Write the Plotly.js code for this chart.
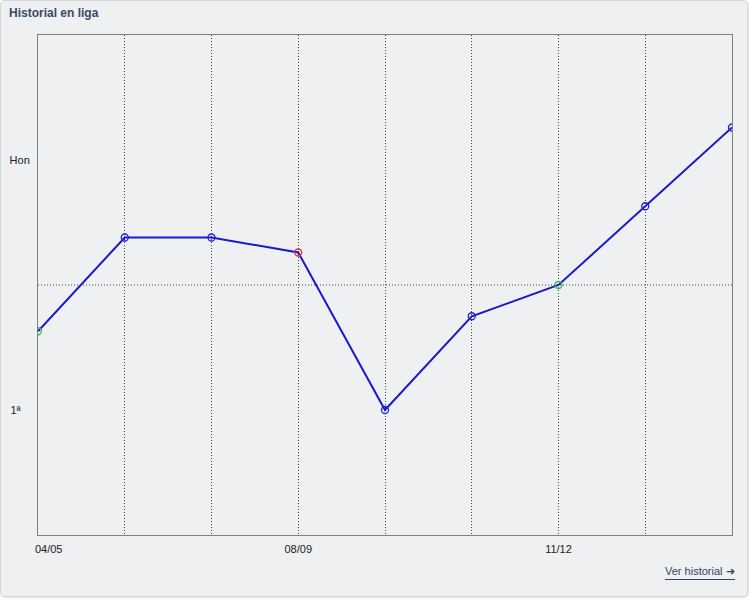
<!DOCTYPE html>
<html>
<head>
<meta charset="utf-8">
<script src="https://cdn.plot.ly/plotly-3.0.1.min.js"></script>
<style>
  html, body { margin: 0; padding: 0; background: #ffffff; }
  #panel {
    position: absolute; left: 0; top: 0; width: 746px; height: 595px;
    background: #eef0f1; border: 1px solid #d3d7db; border-radius: 5px;
    box-shadow: 1px 1px 2px rgba(0,0,0,0.12);
  }
  #title {
    position: absolute; left: 9px; top: 6px;
    font-family: "Liberation Sans", Arial, sans-serif; font-weight: bold;
    font-size: 12px; color: #3a4a63;
  }
  #link {
    position: absolute; left: 665px; top: 565px;
    font-family: "Liberation Sans", Arial, sans-serif; font-size: 11px;
    color: #34445e; border-bottom: 1px solid #34445e; padding-bottom: 1px;
  }
  #chart { position: absolute; left: 0; top: 0; width: 749px; height: 600px; }
</style>
</head>
<body>
<div id="panel"></div>
<div id="title">Historial en liga</div>
<div id="chart"></div>
<div id="link">Ver historial &#10140;</div>
<script>
// Seasons (only some labelled on the axis)
const seasons = ["04/05", "05/06", "06/07", "08/09", "09/10", "10/11", "11/12", "12/13", "13/14"];
const labelledSeasons = ["04/05", "08/09", "11/12"];
// Level value (1ª = 0, Hon = 20)
const levels = [6.3, 13.8, 13.8, 12.6, 0, 7.5, 10, 16.3, 22.6];
// Marker colour per season: green = promotion, red = relegation, blue = normal
const markerColors = ["#33bb33", "#2222cc", "#2222cc", "#dd3333", "#2222cc", "#2222cc", "#33bb33", "#2222cc", "#2222cc"];
const yTickVals = [0, 20];
const yTickText = ["1ª\u00a0\u00a0\u00a0", "Hon"];

const xIdx = seasons.map((s, i) => i);
const pad = "\u00a0".repeat(7);

const trace = {
  x: xIdx,
  y: levels,
  type: "scatter",
  mode: "lines+markers",
  line: { color: "#1a1acc", width: 2 },
  marker: {
    symbol: "circle-open",
    size: 7,
    color: markerColors,
    line: { color: markerColors, width: 1.3 }
  },
  hoverinfo: "skip"
};

const layout = {
  width: 749, height: 600,
  margin: { l: 38, r: 17, t: 35, b: 65, pad: 0 },
  paper_bgcolor: "rgba(0,0,0,0)",
  plot_bgcolor: "rgba(0,0,0,0)",
  showlegend: false,
  font: { family: "Liberation Sans, Arial, sans-serif", size: 11, color: "#222222" },
  xaxis: {
    range: [0, seasons.length - 1],
    tickmode: "array",
    tickvals: xIdx,
    ticktext: seasons.map((s, i) => labelledSeasons.includes(s) ? (i === 0 ? pad + s : s) : ""),
    showgrid: true, gridcolor: "#444444", griddash: "1px,2px", gridwidth: 1,
    zeroline: false,
    showline: true, linecolor: "#808080", linewidth: 1, mirror: true,
    ticks: "", ticklabelstandoff: 4
  },
  yaxis: {
    range: [-10, 30],
    tickmode: "array",
    tickvals: yTickVals,
    ticktext: yTickText,
    showgrid: false, zeroline: false,
    showline: true, linecolor: "#808080", linewidth: 1, mirror: true,
    ticks: "", ticklabelstandoff: 5
  },
  shapes: [{
    type: "line", xref: "paper", x0: 0, x1: 1, yref: "y", y0: 10, y1: 10,
    line: { color: "#444444", width: 1, dash: "1px,2px" }, layer: "below"
  }]
};

Plotly.newPlot("chart", [trace], layout, { displayModeBar: false, staticPlot: true });
</script>
</body>
</html>
